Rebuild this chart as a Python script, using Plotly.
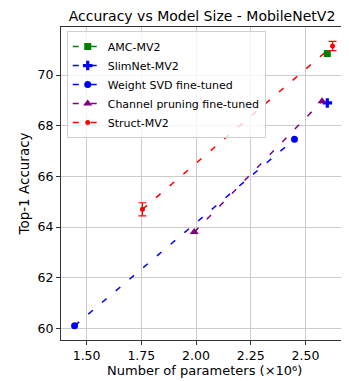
import plotly.graph_objects as go

amc_x = [2.60]
amc_y = [70.85]
slim_x = [2.60]
slim_y = [68.9]
svd_x = [1.445, 2.45]
svd_y = [60.1, 67.47]
chan_x = [1.992, 2.576]
chan_y = [63.8, 68.97]
struct_x = [1.755, 2.624]
struct_y = [64.7, 71.15]
struct_err = [0.26, 0.18]

xticks = [1.5, 1.75, 2.0, 2.25, 2.5]
xtick_text = ["1.50", "1.75", "2.00", "2.25", "2.50"]
yticks = [60, 62, 64, 66, 68, 70]

FONT = "DejaVu Sans"
DASH = "6px,12px"
fig = go.Figure()
fig.add_trace(go.Scatter(x=amc_x, y=amc_y, mode="lines+markers", name="AMC-MV2",
                         line=dict(color="green", dash=DASH, width=1.5),
                         marker=dict(symbol="square", size=7, color="green")))
fig.add_trace(go.Scatter(x=slim_x, y=slim_y, mode="lines+markers", name="SlimNet-MV2",
                         line=dict(color="blue", dash=DASH, width=1.5),
                         marker=dict(symbol="cross", size=8, color="blue")))
fig.add_trace(go.Scatter(x=svd_x, y=svd_y, mode="lines+markers", name="Weight SVD fine-tuned",
                         line=dict(color="blue", dash=DASH, width=1.5),
                         marker=dict(symbol="circle", size=7, color="blue")))
fig.add_trace(go.Scatter(x=chan_x, y=chan_y, mode="lines+markers", name="Channel pruning fine-tuned",
                         line=dict(color="purple", dash=DASH, width=1.5),
                         marker=dict(symbol="triangle-up", size=8, color="purple")))
fig.add_trace(go.Scatter(x=struct_x, y=struct_y, mode="lines+markers", name="Struct-MV2",
                         line=dict(color="red", dash=DASH, width=1.5),
                         marker=dict(symbol="circle", size=5, color="red"),
                         error_y=dict(type="data", array=struct_err, visible=True,
                                      color="red", thickness=1.2, width=4)))

# page body has an 8px default margin; figure is sized to fit the 349x381 window
fig.update_layout(
    width=341, height=373,
    margin=dict(l=53, r=2, t=19, b=41),
    paper_bgcolor="white", plot_bgcolor="white",
    font=dict(family=FONT, size=12, color="black"),
    title=dict(text="Accuracy vs Model Size - MobileNetV2", x=0.569, xanchor="center",
               y=0.979, yanchor="middle", font=dict(family=FONT, size=14, color="black")),
    showlegend=True,
    legend=dict(x=0.02, y=0.987, xanchor="left", yanchor="top",
                bgcolor="rgba(255,255,255,0.8)", bordercolor="#d0d0d0", borderwidth=1,
                font=dict(family=FONT, size=11, color="black"),
                tracegroupgap=0, itemwidth=30),
    annotations=[dict(text="Number of parameters (×10⁶)", xref="paper", yref="paper",
                      x=0.5, y=-0.099, xanchor="center", yanchor="middle", showarrow=False,
                      font=dict(family=FONT, size=13, color="black"))],
)
fig.update_xaxes(range=[1.383, 2.69], tickvals=xticks, ticktext=xtick_text, automargin=False,
                 showgrid=True, gridcolor="#cccccc", gridwidth=1,
                 showline=True, linecolor="#333333", linewidth=1, mirror=True,
                 ticks="outside", ticklen=4, tickcolor="#333333", zeroline=False,
                 tickfont=dict(family=FONT, size=12.5))
fig.update_yaxes(range=[59.54, 71.9], tickvals=yticks, automargin=False,
                 showgrid=True, gridcolor="#cccccc", gridwidth=1,
                 showline=True, linecolor="#333333", linewidth=1, mirror=True,
                 ticks="outside", ticklen=4, tickcolor="#333333", zeroline=False,
                 title=dict(text="Top-1 Accuracy", standoff=4, font=dict(family=FONT, size=13.5)),
                 tickfont=dict(family=FONT, size=12.5))

fig.write_html("out.html")
